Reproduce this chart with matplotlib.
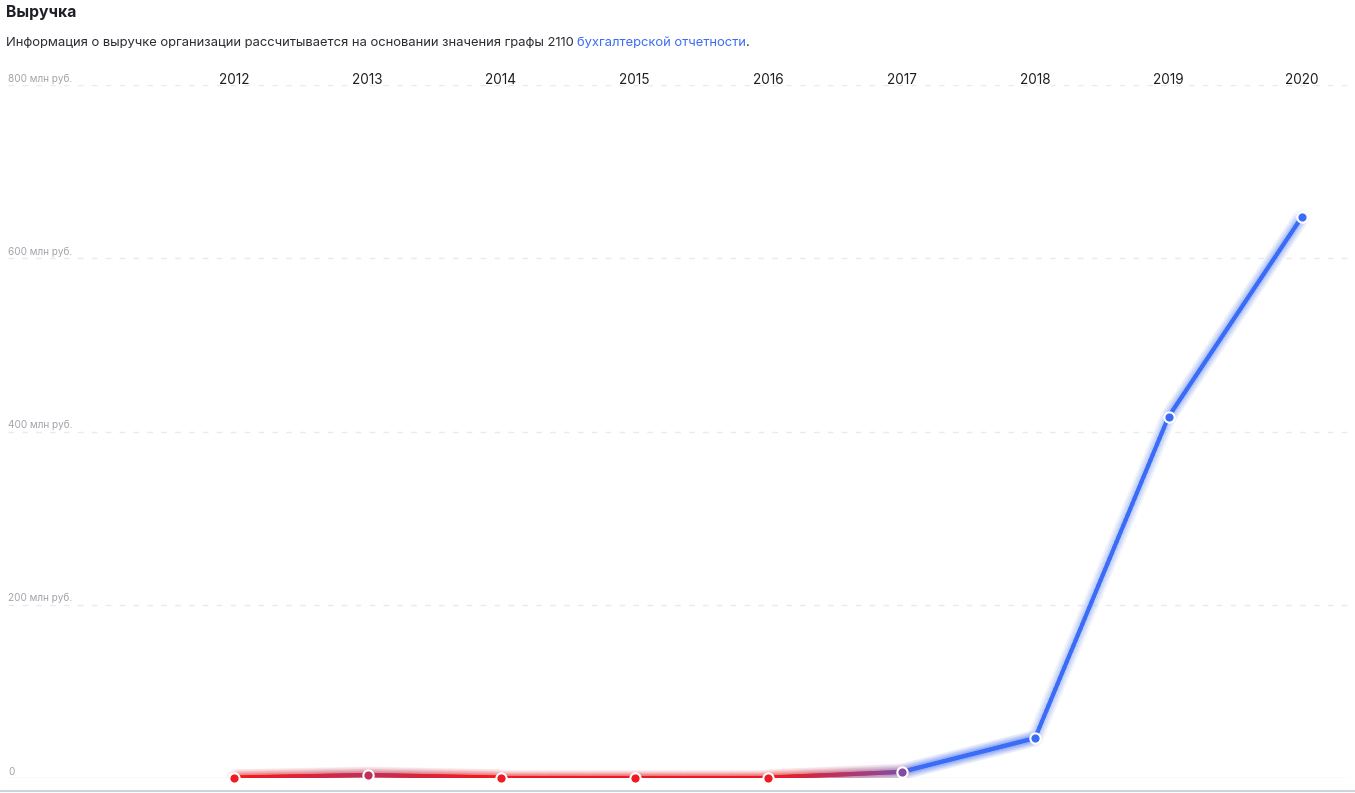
import numpy as np
import matplotlib
matplotlib.use("Agg")
import matplotlib.pyplot as plt
from matplotlib.collections import LineCollection
from matplotlib.colors import to_rgb

# ---- data ----
years = [2012, 2013, 2014, 2015, 2016, 2017, 2018, 2019, 2020]
revenue = [0.5, 3.5, 0.5, 0.5, 0.5, 7.0, 46.0, 417.0, 648.0]  # млн руб.
y_ticks = [0, 200, 400, 600, 800]
y_tick_labels = ["0", "200 млн руб.", "400 млн руб.", "600 млн руб.", "800 млн руб."]
title = "Выручка"
subtitle_parts = ["Информация о выручке организации рассчитывается на основании значения графы 2110 ",
                  "бухгалтерской отчетности", "."]

plt.rcParams['font.family'] = ['Inter', 'DejaVu Sans']

W, H = 1355, 793
fig = plt.figure(figsize=(W / 100, H / 100), dpi=100)
fig.patch.set_facecolor("white")

# axes: left px 8 .. right px 1350, top px 85 (800) .. bottom px 778 (0)
ax_l, ax_r, ax_t, ax_b = 8, 1350, 85, 778
ax = fig.add_axes([ax_l / W, 1 - ax_b / H, (ax_r - ax_l) / W, (ax_b - ax_t) / H])
ax.set_facecolor("none")
for s in ax.spines.values():
    s.set_visible(False)
ax.set_xticks([])
ax.set_yticks([])

# x scale: 2012 at px 234, 2020 at px 1302
px_per_year = (1302 - 234) / 8
ax.set_xlim(2012 - (234 - ax_l) / px_per_year, 2012 + (ax_r - 234) / px_per_year)
ax.set_ylim(0, 800)

# grid lines
for v in y_ticks[1:]:
    ax.axhline(v, color="#e8eaed", lw=1, ls=(0, (4, 6)), zorder=1)
ax.axhline(0, color="#e4e6ea", lw=1, zorder=1)

# y labels (above grid lines at left)
for v, lab in zip(y_ticks, y_tick_labels):
    ax.annotate(lab, xy=(0, v), xycoords=("axes fraction", "data"),
                xytext=(0, 1), textcoords="offset points", ha="left", va="bottom",
                fontsize=7.2, color="#a0a4aa")

# year labels at top (centre ~ px 78)
for yr in years:
    ax.text(yr, 1.0 + 5 / (ax_b - ax_t), str(yr), transform=ax.get_xaxis_transform(),
            ha="center", va="center", fontsize=9.8, color="#1e2025")

red = np.array(to_rgb("#ef1b22"))
blue = np.array(to_rgb("#3b6cf7"))


def col(v):
    t = np.clip((v - 1.0) / 10.0, 0, 1)
    return red * (1 - t) + blue * t


# gradient line via subdivided segments
xs = np.array(years, dtype=float)
ys = np.array(revenue, dtype=float)
segs, cols = [], []
for i in range(len(xs) - 1):
    f = np.linspace(0, 1, 60)
    sx = xs[i] + (xs[i + 1] - xs[i]) * f
    sy = ys[i] + (ys[i + 1] - ys[i]) * f
    for j in range(len(f) - 1):
        segs.append([[sx[j], sy[j]], [sx[j + 1], sy[j + 1]]])
        cols.append(col((sy[j] + sy[j + 1]) / 2))
cols = np.array(cols)

# soft glow
for lw, a in [(12, 0.03), (9, 0.04), (6, 0.06)]:
    glow = LineCollection(segs, colors=np.column_stack([cols, np.full(len(cols), a)]),
                          linewidths=lw, capstyle="round", zorder=2)
    ax.add_collection(glow)
lc = LineCollection(segs, colors=cols, linewidths=3.0, capstyle="round", zorder=3)
ax.add_collection(lc)

# points
for x, y in zip(xs, ys):
    ax.scatter([x], [y], s=55, color=[col(y)], edgecolors="white", linewidths=1.5,
               zorder=4, clip_on=False)

# bottom border
fig.add_artist(plt.Line2D([0, 1], [1 - 790.5 / H, 1 - 790.5 / H], color="#cdd3da", lw=1.5))

# title + subtitle
fig.text(6 / W, 1 - 13 / H, title, fontsize=11.3, fontweight="bold", color="#1e2025",
         ha="left", va="center")
renderer = fig.canvas.get_renderer()
x_px = 6
colors = ["#2b2d33", "#3d6cf5", "#2b2d33"]
for part, c in zip(subtitle_parts, colors):
    t = fig.text(x_px / W, 1 - 43 / H, part, fontsize=9.35, color=c, ha="left", va="center")
    bb = t.get_window_extent(renderer=renderer)
    x_px += bb.width

fig.savefig("out.png", dpi=100, facecolor="white")
